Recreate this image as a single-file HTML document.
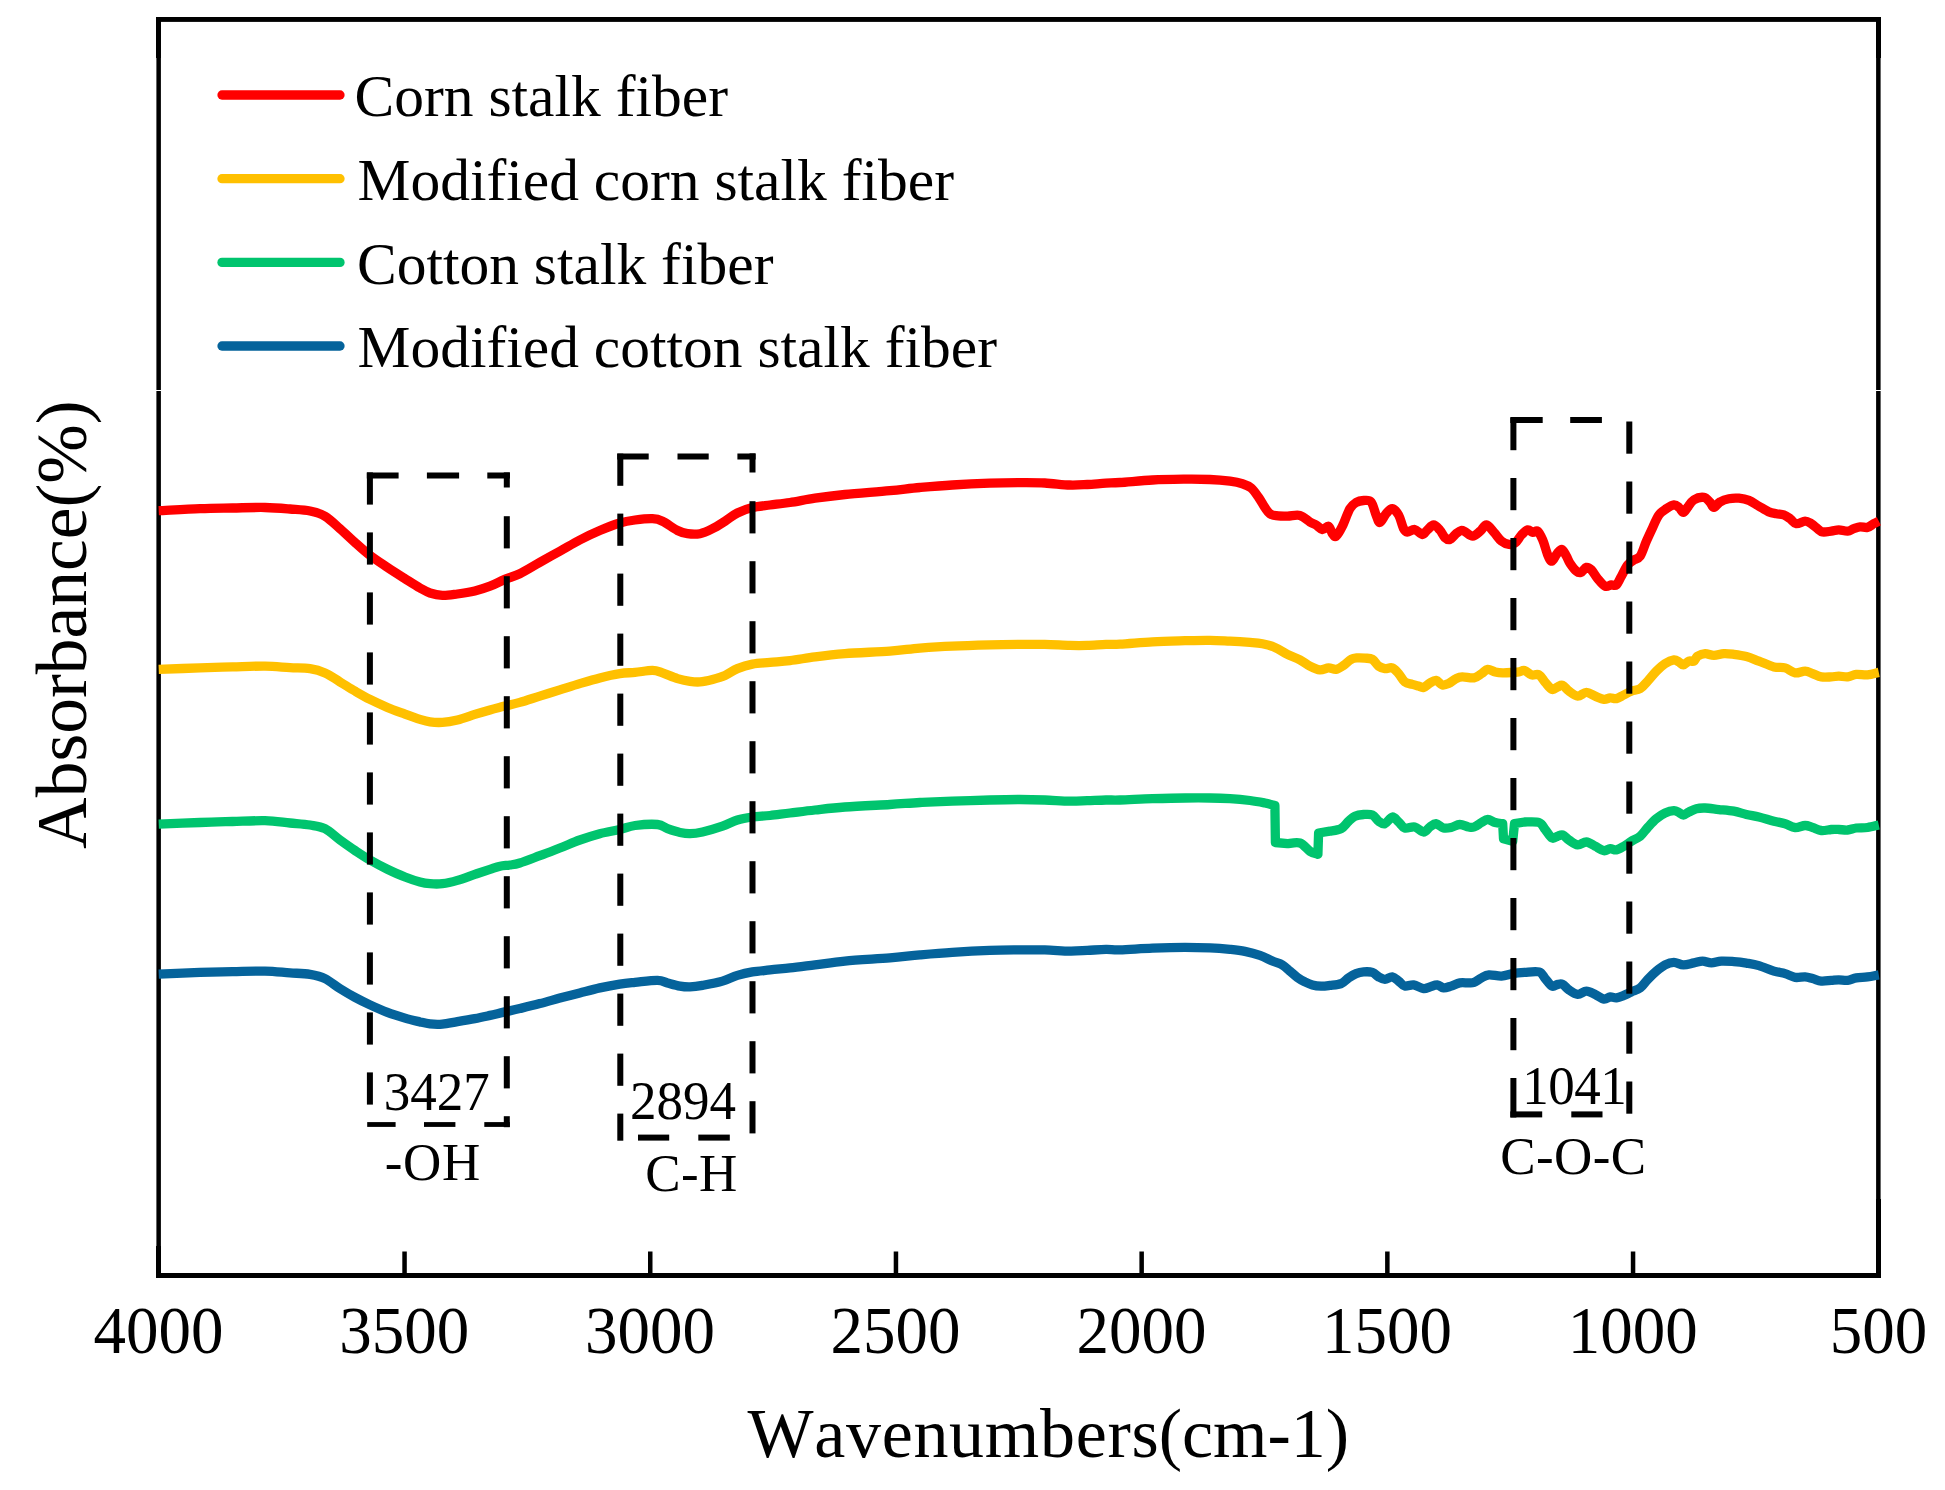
<!DOCTYPE html>
<html lang="en"><head><meta charset="utf-8"><title>FTIR spectra of stalk fibers</title>
<style>html,body{margin:0;padding:0;background:#fff}body{width:1945px;height:1490px;overflow:hidden}svg{display:block}</style>
</head><body>
<svg width="1945" height="1490" viewBox="0 0 1945 1490">
<rect width="1945" height="1490" fill="#fff"/>
<g fill="#000">
<rect x="156" y="17" width="1725" height="4.9"/>
<rect x="156" y="1273" width="1725" height="5"/>
<rect x="156.4" y="17" width="4.5" height="1261"/>
<rect x="156" y="17" width="4.9" height="41"/>
<rect x="156" y="1246" width="5" height="32"/>
<rect x="1876.1" y="17" width="4.5" height="1261"/>
<rect x="1876" y="17" width="5" height="41"/>
<rect x="1876" y="1199" width="5" height="79"/>
<rect x="402.3" y="1251.5" width="4.5" height="24.0"/>
<rect x="648.0" y="1251.5" width="4.5" height="24.0"/>
<rect x="893.7" y="1251.5" width="4.5" height="24.0"/>
<rect x="1139.4" y="1251.5" width="4.5" height="24.0"/>
<rect x="1385.1" y="1251.5" width="4.5" height="24.0"/>
<rect x="1630.8" y="1251.5" width="4.5" height="24.0"/>
</g>
<rect x="150" y="390" width="1740" height="1" fill="#fff"/>
<path d="M158.7 510.7C165.6 510.4 187.7 509.1 200.0 508.7C212.3 508.2 221.7 508.2 232.5 508.0C243.3 507.8 255.4 507.3 265.0 507.5C274.6 507.7 282.5 508.4 290.0 509.0C297.5 509.6 304.2 509.8 310.0 511.0C315.8 512.2 320.0 513.2 325.0 516.2C330.0 519.2 335.0 524.3 340.0 528.7C345.0 533.1 350.0 538.0 355.0 542.5C360.0 547.0 364.6 551.2 370.0 555.4C375.4 559.5 381.6 563.5 387.4 567.4C393.2 571.3 399.6 575.3 405.0 578.7C410.4 582.1 415.8 585.6 420.0 588.0C424.2 590.4 426.3 591.8 430.0 593.0C433.7 594.2 437.8 595.2 442.4 595.4C447.0 595.6 452.0 594.7 457.4 594.0C462.8 593.3 469.4 592.3 474.8 591.0C480.2 589.7 485.0 588.1 490.0 586.2C495.0 584.3 499.8 581.5 504.8 579.4C509.8 577.3 514.0 576.5 519.8 573.7C525.6 570.9 533.1 566.1 539.8 562.4C546.5 558.6 553.1 554.9 559.8 551.2C566.5 547.5 573.1 543.5 579.8 540.0C586.5 536.5 593.1 533.3 599.8 530.5C606.5 527.7 613.9 524.8 619.8 523.0C625.7 521.2 629.5 520.7 635.0 520.0C640.5 519.3 647.9 518.5 652.5 518.7C657.1 518.9 658.3 519.2 662.5 521.2C666.7 523.2 673.3 528.4 677.5 530.5C681.7 532.6 683.8 533.2 687.5 533.7C691.2 534.2 695.8 534.5 700.0 533.7C704.2 532.9 708.3 530.8 712.5 528.7C716.7 526.6 720.9 523.8 725.0 521.2C729.1 518.6 732.8 515.3 737.4 513.0C742.0 510.7 747.0 508.8 752.4 507.5C757.8 506.2 763.7 505.8 770.0 505.0C776.3 504.2 782.5 503.6 790.0 502.5C797.5 501.4 805.9 499.5 815.0 498.2C824.1 496.9 832.4 495.8 844.9 494.5C857.4 493.2 877.4 491.9 889.9 490.7C902.4 489.5 909.5 488.4 919.9 487.5C930.3 486.6 940.6 485.7 952.3 485.0C963.9 484.3 978.5 483.6 989.8 483.2C1001.0 482.8 1010.6 482.7 1019.8 482.7C1029.0 482.7 1036.5 482.6 1044.8 483.0C1053.1 483.4 1062.7 484.8 1069.8 485.0C1076.9 485.2 1081.3 484.8 1087.3 484.5C1093.3 484.2 1100.5 483.5 1106.0 483.2C1111.5 482.9 1112.2 483.0 1120.0 482.5C1127.8 482.0 1141.7 480.6 1152.5 480.0C1163.3 479.4 1175.4 479.3 1185.0 479.2C1194.6 479.1 1202.5 479.2 1210.0 479.5C1217.5 479.8 1224.6 480.5 1230.0 481.2C1235.4 481.9 1238.9 482.6 1242.4 483.7C1245.9 484.8 1248.5 485.7 1251.2 488.0C1253.9 490.3 1256.4 494.2 1258.7 497.5C1261.0 500.8 1263.0 504.8 1264.9 507.5C1266.8 510.2 1268.0 512.3 1269.9 513.7C1271.8 515.1 1273.3 515.3 1276.2 515.7C1279.1 516.1 1283.5 516.2 1287.4 516.2C1291.4 516.2 1296.2 514.5 1299.9 515.5C1303.7 516.5 1307.2 520.4 1309.9 522.0C1312.6 523.6 1314.0 523.8 1316.1 525.0C1318.2 526.2 1320.3 529.3 1322.4 529.5C1324.5 529.7 1326.9 525.5 1328.6 526.2C1330.3 526.9 1331.2 532.0 1332.4 533.7C1333.7 535.4 1334.4 537.5 1336.1 536.2C1337.8 535.0 1340.1 530.8 1342.4 526.2C1344.7 521.6 1347.6 512.6 1349.9 508.7C1352.2 504.8 1353.8 503.9 1356.1 502.5C1358.4 501.1 1361.1 500.6 1363.6 500.5C1366.1 500.4 1369.0 499.6 1371.1 502.0C1373.2 504.4 1374.6 511.6 1376.1 515.0C1377.6 518.4 1378.2 522.7 1379.9 522.5C1381.6 522.3 1384.0 516.0 1386.1 513.7C1388.2 511.4 1390.2 508.5 1392.3 508.7C1394.4 508.9 1396.7 511.7 1398.6 515.0C1400.5 518.3 1402.1 525.9 1403.6 528.7C1405.0 531.5 1405.4 531.9 1407.3 532.0C1409.2 532.1 1412.3 529.1 1414.8 529.5C1417.3 529.9 1420.2 534.4 1422.3 534.5C1424.4 534.6 1425.4 531.6 1427.3 530.0C1429.2 528.4 1431.5 525.0 1433.6 525.0C1435.7 525.0 1437.9 527.9 1439.8 530.0C1441.7 532.1 1443.1 535.9 1444.8 537.5C1446.5 539.1 1447.9 540.1 1449.8 539.5C1451.7 538.9 1454.2 535.2 1456.1 533.7C1458.0 532.2 1459.6 530.8 1461.1 530.5C1462.6 530.2 1463.3 530.9 1465.2 531.9C1467.1 532.9 1470.2 536.3 1472.7 536.2C1475.2 536.1 1477.9 533.1 1480.2 531.2C1482.5 529.3 1484.2 524.7 1486.5 524.9C1488.8 525.1 1491.5 529.7 1494.0 532.4C1496.5 535.1 1499.0 539.2 1501.5 541.2C1504.0 543.2 1506.7 544.1 1509.0 544.4C1511.3 544.7 1513.1 544.5 1515.2 542.9C1517.3 541.3 1519.4 537.1 1521.5 534.9C1523.6 532.7 1525.8 530.3 1527.7 529.9C1529.6 529.5 1531.0 532.2 1532.7 532.4C1534.4 532.6 1536.0 530.0 1537.7 531.2C1539.4 532.5 1541.0 536.0 1542.7 539.9C1544.4 543.8 1546.2 551.3 1547.7 554.9C1549.2 558.5 1550.5 561.4 1552.0 561.2C1553.5 561.0 1555.3 555.7 1557.0 553.7C1558.7 551.7 1560.4 549.0 1562.0 549.4C1563.6 549.8 1565.0 553.8 1566.4 556.2C1567.8 558.6 1568.5 561.2 1570.2 563.7C1571.9 566.2 1574.6 569.8 1576.4 571.2C1578.2 572.7 1579.2 573.0 1580.9 572.4C1582.6 571.8 1584.7 567.8 1586.4 567.4C1588.2 567.0 1589.5 568.0 1591.4 569.9C1593.3 571.8 1595.4 576.0 1597.7 578.7C1600.0 581.4 1602.9 585.2 1605.2 586.2C1607.5 587.2 1609.5 585.1 1611.4 584.9C1613.3 584.7 1614.7 586.3 1616.4 584.9C1618.1 583.5 1619.5 579.5 1621.4 576.2C1623.3 572.9 1625.6 567.6 1627.7 564.9C1629.8 562.2 1631.8 561.3 1633.9 559.9C1636.0 558.5 1638.1 559.3 1640.2 556.2C1642.3 553.1 1644.3 546.0 1646.4 541.2C1648.5 536.4 1650.6 531.8 1652.7 527.4C1654.8 523.0 1656.6 518.0 1658.9 514.9C1661.2 511.8 1663.9 510.4 1666.4 508.7C1668.9 507.0 1671.8 505.1 1673.9 504.9C1676.0 504.7 1677.3 506.1 1678.9 507.4C1680.5 508.6 1682.0 512.4 1683.4 512.4C1684.9 512.4 1685.8 509.5 1687.6 507.4C1689.3 505.3 1691.2 501.6 1693.9 499.9C1696.6 498.2 1701.2 497.0 1703.9 497.4C1706.6 497.8 1708.4 500.7 1710.1 502.4C1711.8 504.1 1712.2 507.5 1713.9 507.4C1715.6 507.3 1717.6 503.3 1720.1 501.9C1722.6 500.4 1725.8 499.3 1728.9 498.7C1732.0 498.1 1735.6 497.9 1738.9 498.2C1742.2 498.5 1745.6 499.1 1748.9 500.4C1752.2 501.7 1755.6 504.3 1758.9 506.2C1762.2 508.1 1766.0 510.6 1768.9 511.9C1771.8 513.1 1773.9 513.2 1776.4 513.7C1778.9 514.2 1781.5 514.1 1783.8 514.9C1786.1 515.7 1788.0 517.2 1790.1 518.7C1792.2 520.2 1793.8 523.3 1796.3 523.7C1798.8 524.1 1802.6 521.2 1805.1 521.2C1807.6 521.2 1809.2 522.5 1811.3 523.7C1813.4 525.0 1815.7 527.3 1817.6 528.7C1819.5 530.1 1820.3 531.5 1822.6 531.9C1824.9 532.3 1828.6 531.5 1831.3 531.2C1834.0 530.9 1836.1 529.9 1838.8 529.9C1841.5 529.9 1845.1 531.4 1847.6 531.2C1850.1 531.0 1851.7 529.4 1853.8 528.7C1855.9 528.0 1857.8 527.1 1860.1 526.9C1862.4 526.7 1865.2 527.9 1867.5 527.4C1869.8 526.9 1871.9 524.7 1873.8 523.7C1875.7 522.7 1878.0 521.6 1878.8 521.2" fill="none" stroke="#FF0000" stroke-width="9.3" stroke-linejoin="round" stroke-linecap="butt"/>
<path d="M158.7 669.4C165.6 669.1 187.7 668.3 200.0 667.9C212.3 667.5 221.7 667.2 232.5 666.9C243.3 666.6 255.4 666.0 265.0 666.1C274.6 666.2 282.5 667.2 290.0 667.6C297.5 668.0 304.2 667.7 310.0 668.6C315.8 669.5 320.0 670.7 325.0 672.9C330.0 675.1 335.0 678.9 340.0 681.9C345.0 684.9 350.0 688.2 355.0 691.1C360.0 694.0 364.6 696.7 370.0 699.4C375.4 702.1 381.6 704.9 387.4 707.4C393.2 709.9 399.6 712.1 405.0 714.1C410.4 716.1 415.8 718.1 420.0 719.4C424.2 720.7 426.3 721.4 430.0 721.9C433.7 722.4 437.8 722.7 442.4 722.4C447.0 722.1 452.0 721.2 457.4 719.9C462.8 718.6 469.4 716.1 474.8 714.4C480.2 712.7 485.0 711.3 490.0 709.9C495.0 708.5 499.8 707.4 504.8 706.1C509.8 704.9 514.0 704.1 519.8 702.4C525.6 700.7 533.1 698.2 539.8 696.1C546.5 694.0 553.1 692.0 559.8 689.9C566.5 687.8 573.1 685.6 579.8 683.6C586.5 681.6 593.1 679.6 599.8 677.9C606.5 676.2 613.9 674.5 619.8 673.6C625.7 672.7 629.5 672.9 635.0 672.4C640.5 671.9 647.9 670.3 652.5 670.4C657.1 670.5 658.3 671.5 662.5 672.9C666.7 674.3 672.9 677.2 677.5 678.6C682.1 680.0 686.2 680.9 690.0 681.4C693.8 681.9 696.2 682.2 700.0 681.9C703.8 681.6 708.3 680.5 712.5 679.4C716.7 678.3 720.9 677.2 725.0 675.4C729.1 673.6 732.8 670.5 737.4 668.6C742.0 666.7 747.0 665.1 752.4 664.1C757.8 663.1 763.7 663.0 770.0 662.4C776.3 661.8 782.5 661.5 790.0 660.6C797.5 659.7 805.9 658.1 815.0 656.9C824.1 655.7 832.4 654.6 844.9 653.6C857.4 652.6 877.4 652.0 889.9 651.1C902.4 650.2 909.5 648.9 919.9 648.1C930.3 647.3 940.6 646.6 952.3 646.1C963.9 645.6 978.5 645.2 989.8 644.9C1001.0 644.6 1010.6 644.5 1019.8 644.4C1029.0 644.3 1036.5 644.2 1044.8 644.4C1053.1 644.6 1062.7 645.2 1069.8 645.4C1076.9 645.6 1081.3 645.6 1087.3 645.4C1093.3 645.2 1100.5 644.6 1106.0 644.4C1111.5 644.2 1112.2 644.6 1120.0 644.2C1127.8 643.8 1141.7 642.5 1152.5 641.9C1163.3 641.3 1175.4 641.0 1185.0 640.7C1194.6 640.5 1202.5 640.3 1210.0 640.4C1217.5 640.5 1223.3 640.9 1230.0 641.2C1236.7 641.5 1244.6 642.0 1250.0 642.4C1255.4 642.8 1258.2 642.9 1262.4 643.7C1266.6 644.5 1270.7 645.6 1274.9 647.4C1279.1 649.2 1283.2 652.3 1287.4 654.4C1291.6 656.5 1296.2 657.9 1299.9 659.9C1303.7 661.9 1306.6 664.4 1309.9 666.1C1313.2 667.8 1316.8 669.6 1319.9 669.9C1323.0 670.2 1325.9 668.0 1328.6 667.9C1331.3 667.8 1333.6 669.8 1336.1 669.4C1338.6 669.0 1341.1 667.1 1343.6 665.4C1346.1 663.7 1348.8 660.6 1351.1 659.4C1353.4 658.1 1355.1 658.1 1357.4 657.9C1359.7 657.7 1362.4 657.9 1364.9 658.1C1367.4 658.4 1370.1 658.1 1372.4 659.4C1374.7 660.7 1376.5 664.6 1378.6 666.1C1380.7 667.6 1382.6 668.3 1384.9 668.6C1387.2 668.9 1390.0 667.1 1392.3 667.9C1394.6 668.7 1396.5 671.3 1398.6 673.6C1400.7 675.9 1402.5 680.1 1404.8 681.9C1407.1 683.7 1410.0 683.7 1412.3 684.4C1414.6 685.1 1416.7 685.6 1418.6 686.1C1420.5 686.6 1421.7 687.9 1423.6 687.4C1425.5 686.9 1427.7 684.3 1429.8 683.1C1431.9 681.9 1434.0 680.1 1436.1 680.4C1438.2 680.7 1440.2 684.4 1442.3 684.9C1444.4 685.4 1446.3 684.6 1448.6 683.6C1450.9 682.6 1453.8 679.7 1456.1 678.6C1458.4 677.5 1459.3 677.0 1462.3 676.9C1465.3 676.8 1470.8 678.4 1474.0 677.9C1477.2 677.4 1479.2 675.0 1481.5 673.6C1483.8 672.2 1485.4 669.7 1487.7 669.4C1490.0 669.1 1492.7 671.3 1495.2 671.9C1497.7 672.5 1499.8 672.8 1502.7 672.9C1505.6 673.0 1510.0 672.6 1512.7 672.4C1515.4 672.2 1517.0 672.2 1519.0 671.9C1521.0 671.6 1522.4 669.9 1524.5 670.4C1526.6 670.9 1529.1 674.1 1531.5 674.9C1533.9 675.6 1536.7 673.6 1539.0 674.9C1541.3 676.1 1543.0 680.0 1545.2 682.4C1547.4 684.8 1549.9 688.6 1552.0 689.4C1554.1 690.1 1555.9 687.6 1557.7 686.9C1559.5 686.2 1560.8 684.7 1562.7 685.4C1564.6 686.1 1566.4 689.3 1568.9 691.1C1571.4 692.9 1574.8 695.9 1577.7 696.1C1580.6 696.3 1583.5 692.4 1586.4 692.4C1589.3 692.4 1592.3 694.9 1595.2 696.1C1598.1 697.3 1601.4 699.1 1603.9 699.4C1606.4 699.7 1608.1 698.0 1610.2 697.9C1612.3 697.8 1614.1 699.1 1616.4 698.6C1618.7 698.1 1621.4 696.1 1623.9 694.9C1626.4 693.6 1628.7 692.1 1631.4 691.1C1634.1 690.1 1637.5 690.3 1640.2 688.6C1642.9 686.9 1645.0 684.0 1647.7 681.1C1650.4 678.2 1653.5 674.0 1656.4 671.1C1659.3 668.2 1662.2 665.5 1665.1 663.6C1668.0 661.7 1671.6 660.2 1673.9 659.9C1676.2 659.6 1677.3 661.1 1678.9 661.9C1680.5 662.7 1681.7 665.0 1683.4 664.9C1685.1 664.8 1687.2 661.7 1688.9 661.1C1690.7 660.5 1692.5 661.9 1693.9 661.1C1695.4 660.3 1695.7 657.4 1697.6 656.1C1699.5 654.9 1702.4 653.7 1705.1 653.6C1707.8 653.5 1710.8 655.4 1713.9 655.4C1717.0 655.4 1720.6 653.8 1723.9 653.6C1727.2 653.4 1730.2 653.9 1733.9 654.4C1737.7 654.9 1742.2 655.5 1746.4 656.6C1750.6 657.7 1754.3 659.4 1758.9 661.1C1763.5 662.8 1769.5 665.8 1773.9 666.9C1778.3 668.0 1781.6 666.9 1785.1 667.9C1788.6 668.9 1791.8 672.4 1795.1 672.9C1798.4 673.4 1802.2 671.0 1805.1 671.1C1808.0 671.2 1809.9 672.6 1812.6 673.6C1815.3 674.6 1818.2 676.4 1821.3 676.9C1824.4 677.4 1828.4 677.0 1831.3 676.9C1834.2 676.8 1836.1 676.1 1838.8 676.1C1841.5 676.1 1844.7 677.2 1847.6 676.9C1850.5 676.6 1853.0 674.7 1856.3 674.4C1859.6 674.1 1863.8 675.2 1867.5 674.9C1871.2 674.6 1876.9 672.8 1878.8 672.4" fill="none" stroke="#FFC000" stroke-width="9.3" stroke-linejoin="round" stroke-linecap="butt"/>
<path d="M158.7 824.2C165.6 823.9 187.7 823.0 200.0 822.5C212.3 822.0 221.7 821.8 232.5 821.5C243.3 821.2 255.4 820.5 265.0 820.7C274.6 821.0 282.5 822.3 290.0 823.0C297.5 823.7 304.2 824.0 310.0 825.0C315.8 826.0 320.0 826.2 325.0 828.7C330.0 831.2 335.0 836.4 340.0 840.0C345.0 843.6 350.0 847.2 355.0 850.5C360.0 853.8 364.6 856.9 370.0 860.0C375.4 863.1 381.6 866.4 387.4 869.2C393.2 872.0 399.6 874.9 405.0 877.0C410.4 879.1 415.8 880.9 420.0 882.0C424.2 883.1 426.3 883.4 430.0 883.7C433.7 884.0 437.8 884.2 442.4 883.7C447.0 883.2 452.0 882.0 457.4 880.4C462.8 878.8 469.4 876.2 474.8 874.4C480.2 872.6 485.8 870.8 490.0 869.4C494.2 868.0 496.7 866.9 500.0 866.2C503.3 865.5 506.7 865.5 510.0 865.0C513.3 864.5 514.8 864.5 519.8 863.0C524.8 861.5 533.1 858.2 539.8 855.7C546.5 853.2 553.1 850.6 559.8 848.0C566.5 845.4 573.1 842.4 579.8 840.0C586.5 837.6 593.1 835.5 599.8 833.7C606.5 832.0 613.9 830.9 619.8 829.5C625.7 828.1 628.7 826.3 635.0 825.5C641.3 824.7 652.1 824.0 657.5 824.5C662.9 825.0 663.8 827.4 667.5 828.7C671.2 830.0 676.2 831.7 680.0 832.5C683.8 833.3 686.2 833.8 690.0 833.7C693.8 833.6 697.1 833.2 702.5 832.0C707.9 830.8 716.7 828.2 722.5 826.2C728.3 824.2 732.4 821.5 737.4 820.0C742.4 818.5 747.0 817.8 752.4 817.0C757.8 816.2 763.7 816.2 770.0 815.5C776.3 814.8 782.5 813.9 790.0 813.0C797.5 812.1 805.9 811.0 815.0 810.0C824.1 809.0 832.4 807.9 844.9 807.0C857.4 806.1 877.4 805.2 889.9 804.5C902.4 803.8 909.5 803.0 919.9 802.5C930.3 802.0 940.6 801.6 952.3 801.2C963.9 800.8 978.5 800.3 989.8 800.0C1001.0 799.7 1010.6 799.5 1019.8 799.5C1029.0 799.5 1036.5 799.7 1044.8 800.0C1053.1 800.3 1062.7 801.1 1069.8 801.2C1076.9 801.3 1081.3 800.9 1087.3 800.7C1093.3 800.5 1100.5 800.1 1106.0 800.0C1111.5 799.9 1112.2 800.2 1120.0 800.0C1127.8 799.8 1141.7 799.0 1152.5 798.7C1163.3 798.4 1175.4 798.1 1185.0 798.0C1194.6 797.9 1202.5 797.9 1210.0 798.0C1217.5 798.1 1223.3 798.3 1230.0 798.7C1236.7 799.1 1244.2 799.8 1250.0 800.5C1255.8 801.2 1260.8 802.2 1264.9 803.0C1269.1 803.8 1273.2 805.1 1274.9 805.5L1275.4 842.5L1287.4 843.7C1289.5 843.6 1296.2 841.8 1299.9 843.0C1303.7 844.2 1306.9 849.3 1309.9 851.2C1312.9 853.1 1316.6 853.8 1317.9 854.3L1318.6 833.0L1329.9 831.2C1331.8 830.8 1338.0 830.4 1341.1 828.7C1344.2 827.0 1346.3 823.3 1348.6 821.2C1350.9 819.1 1352.4 817.3 1354.9 816.2C1357.4 815.1 1360.7 814.7 1363.6 814.5C1366.5 814.3 1369.9 813.9 1372.4 815.0C1374.9 816.1 1376.5 819.8 1378.6 821.2C1380.7 822.7 1382.6 824.4 1384.9 823.7C1387.2 823.0 1390.0 817.3 1392.3 817.0C1394.6 816.7 1396.5 820.2 1398.6 822.0C1400.7 823.8 1402.1 827.2 1404.8 828.0C1407.5 828.8 1411.7 826.3 1414.8 827.0C1417.9 827.7 1421.1 832.0 1423.6 832.0C1426.1 832.0 1427.7 828.4 1429.8 827.0C1431.9 825.6 1433.8 823.5 1436.1 823.7C1438.4 823.9 1441.1 827.4 1443.6 828.0C1446.1 828.6 1448.4 828.1 1451.1 827.5C1453.8 826.9 1456.9 824.6 1459.8 824.5C1462.7 824.4 1466.2 826.6 1468.6 827.0C1471.0 827.4 1471.8 827.8 1474.0 827.0C1476.2 826.2 1479.2 823.8 1481.5 822.5C1483.8 821.2 1485.4 819.5 1487.7 819.5C1490.0 819.5 1492.7 821.8 1495.2 822.5C1497.7 823.2 1501.5 823.5 1502.7 823.7L1503.5 838.7L1512.7 841.2L1514.5 823.7L1524.5 822.0C1526.9 822.1 1535.5 821.2 1539.0 822.5C1542.5 823.8 1543.0 826.9 1545.2 829.5C1547.4 832.1 1549.9 836.9 1552.0 838.0C1554.1 839.1 1555.9 836.7 1557.7 836.2C1559.5 835.7 1560.8 834.4 1562.7 835.0C1564.6 835.6 1566.4 838.4 1568.9 840.0C1571.4 841.6 1574.8 844.6 1577.7 844.9C1580.6 845.2 1583.5 841.8 1586.4 842.0C1589.3 842.2 1592.3 844.8 1595.2 846.2C1598.1 847.7 1601.4 850.3 1603.9 850.7C1606.4 851.1 1608.1 848.8 1610.2 848.7C1612.3 848.6 1614.1 850.3 1616.4 849.9C1618.7 849.5 1621.4 847.7 1623.9 846.2C1626.4 844.8 1628.7 842.9 1631.4 841.2C1634.1 839.5 1637.5 838.5 1640.2 836.2C1642.9 833.9 1645.0 830.4 1647.7 827.5C1650.4 824.6 1653.5 821.1 1656.4 818.7C1659.3 816.3 1662.2 814.3 1665.1 813.0C1668.0 811.7 1671.6 810.8 1673.9 810.7C1676.2 810.6 1677.3 811.8 1678.9 812.5C1680.5 813.2 1681.7 815.1 1683.4 815.0C1685.1 814.9 1686.7 813.0 1688.9 812.0C1691.1 811.0 1693.7 809.4 1696.4 808.7C1699.1 808.0 1701.3 807.9 1705.1 808.0C1708.8 808.1 1714.1 809.0 1718.9 809.5C1723.7 810.0 1729.3 810.4 1733.9 811.2C1738.5 812.0 1742.2 813.5 1746.4 814.5C1750.6 815.5 1754.3 815.9 1758.9 817.0C1763.5 818.1 1769.5 820.1 1773.9 821.2C1778.3 822.3 1781.6 822.7 1785.1 823.7C1788.6 824.8 1791.8 827.2 1795.1 827.5C1798.4 827.8 1802.2 825.5 1805.1 825.5C1808.0 825.5 1809.9 826.7 1812.6 827.5C1815.3 828.3 1818.2 830.2 1821.3 830.5C1824.4 830.8 1828.4 829.7 1831.3 829.5C1834.2 829.3 1836.1 829.4 1838.8 829.5C1841.5 829.6 1844.7 830.2 1847.6 830.0C1850.5 829.8 1853.0 828.4 1856.3 828.0C1859.6 827.6 1863.8 828.0 1867.5 827.5C1871.2 827.0 1876.9 825.4 1878.8 825.0" fill="none" stroke="#00C46E" stroke-width="9.3" stroke-linejoin="round" stroke-linecap="butt"/>
<path d="M158.7 974.1C165.6 973.8 187.7 972.8 200.0 972.4C212.3 972.0 221.7 971.8 232.5 971.6C243.3 971.4 255.4 970.9 265.0 971.1C274.6 971.3 282.5 972.4 290.0 972.9C297.5 973.4 304.2 973.4 310.0 974.4C315.8 975.4 320.0 976.2 325.0 978.6C330.0 981.0 335.0 985.5 340.0 988.6C345.0 991.7 350.0 994.7 355.0 997.4C360.0 1000.1 364.6 1002.4 370.0 1004.9C375.4 1007.4 381.6 1010.2 387.4 1012.4C393.2 1014.6 399.6 1016.5 405.0 1018.1C410.4 1019.7 415.8 1020.9 420.0 1021.9C424.2 1022.9 426.3 1023.5 430.0 1023.9C433.7 1024.3 437.8 1024.5 442.4 1024.1C447.0 1023.7 452.0 1022.5 457.4 1021.6C462.8 1020.7 469.4 1019.6 474.8 1018.6C480.2 1017.6 485.0 1016.5 490.0 1015.4C495.0 1014.3 499.8 1013.0 504.8 1011.9C509.8 1010.8 514.0 1010.0 519.8 1008.6C525.6 1007.2 533.1 1005.4 539.8 1003.6C546.5 1001.9 553.1 999.9 559.8 998.1C566.5 996.3 573.1 994.6 579.8 992.9C586.5 991.2 593.1 989.4 599.8 987.9C606.5 986.4 613.9 985.0 619.8 984.1C625.7 983.2 628.7 983.0 635.0 982.4C641.3 981.8 652.1 980.3 657.5 980.4C662.9 980.5 663.8 981.9 667.5 982.9C671.2 983.9 676.2 985.4 680.0 986.1C683.8 986.8 686.2 987.0 690.0 986.9C693.8 986.8 697.1 986.4 702.5 985.4C707.9 984.4 716.7 982.8 722.5 981.1C728.3 979.4 732.4 976.9 737.4 975.4C742.4 973.9 747.0 972.8 752.4 971.9C757.8 971.0 763.7 970.6 770.0 969.9C776.3 969.2 782.5 968.7 790.0 967.9C797.5 967.1 805.9 966.0 815.0 964.9C824.1 963.8 832.4 962.3 844.9 961.1C857.4 959.9 877.4 958.9 889.9 957.9C902.4 956.9 909.5 955.8 919.9 954.9C930.3 954.0 940.6 953.1 952.3 952.4C963.9 951.6 978.5 950.8 989.8 950.4C1001.0 950.0 1010.6 950.0 1019.8 949.9C1029.0 949.8 1036.5 949.7 1044.8 949.9C1053.1 950.1 1062.7 951.0 1069.8 951.1C1076.9 951.2 1081.3 950.7 1087.3 950.4C1093.3 950.1 1100.5 949.5 1106.0 949.4C1111.5 949.3 1112.2 950.1 1120.0 949.9C1127.8 949.7 1141.7 948.5 1152.5 948.1C1163.3 947.7 1175.4 947.4 1185.0 947.4C1194.6 947.4 1202.5 947.6 1210.0 947.9C1217.5 948.2 1224.2 948.8 1230.0 949.4C1235.8 950.0 1239.9 950.4 1244.9 951.4C1249.9 952.4 1255.3 953.8 1259.9 955.4C1264.5 957.0 1268.7 959.5 1272.4 961.1C1276.2 962.7 1279.5 963.2 1282.4 964.9C1285.3 966.6 1287.4 969.0 1289.9 971.1C1292.4 973.2 1294.9 975.6 1297.4 977.4C1299.9 979.2 1302.4 980.6 1304.9 981.9C1307.4 983.1 1309.7 984.2 1312.4 984.9C1315.1 985.6 1318.2 986.0 1321.1 986.1C1324.0 986.2 1326.6 985.8 1329.9 985.4C1333.2 985.0 1338.0 984.9 1341.1 983.6C1344.2 982.4 1346.1 979.6 1348.6 977.9C1351.1 976.2 1353.6 974.6 1356.1 973.6C1358.6 972.6 1360.9 972.1 1363.6 971.9C1366.3 971.7 1369.9 971.6 1372.4 972.4C1374.9 973.2 1376.5 975.7 1378.6 976.9C1380.7 978.1 1382.6 979.4 1384.9 979.4C1387.2 979.4 1390.0 976.6 1392.3 976.9C1394.6 977.2 1396.5 979.6 1398.6 981.1C1400.7 982.6 1402.3 985.5 1404.8 986.1C1407.3 986.7 1410.5 984.5 1413.6 984.9C1416.7 985.3 1420.9 988.3 1423.6 988.6C1426.3 988.9 1427.5 987.5 1429.8 986.9C1432.1 986.3 1435.0 984.7 1437.3 984.9C1439.6 985.1 1441.3 987.7 1443.6 987.9C1445.9 988.1 1448.4 986.9 1451.1 986.1C1453.8 985.3 1456.9 983.4 1459.8 982.9C1462.7 982.4 1466.2 983.0 1468.6 982.9C1471.0 982.8 1471.8 983.2 1474.0 982.4C1476.2 981.6 1479.0 979.1 1481.5 977.9C1484.0 976.6 1485.7 975.2 1489.0 974.9C1492.3 974.6 1497.5 976.3 1501.5 976.1C1505.5 975.9 1508.9 974.2 1512.7 973.6C1516.5 973.0 1520.1 972.7 1524.5 972.4C1528.9 972.1 1535.5 970.9 1539.0 971.9C1542.5 972.9 1543.0 976.2 1545.2 978.6C1547.4 981.0 1549.9 985.1 1552.0 986.1C1554.1 987.1 1555.9 984.7 1557.7 984.4C1559.5 984.1 1560.8 983.5 1562.7 984.4C1564.6 985.3 1566.4 988.2 1568.9 989.9C1571.4 991.6 1574.8 994.2 1577.7 994.4C1580.6 994.6 1583.5 991.1 1586.4 991.1C1589.3 991.1 1592.3 993.1 1595.2 994.4C1598.1 995.7 1601.4 998.7 1603.9 999.1C1606.4 999.5 1608.1 997.1 1610.2 996.9C1612.3 996.7 1614.1 998.1 1616.4 997.9C1618.7 997.6 1621.4 996.4 1623.9 995.4C1626.4 994.4 1628.7 993.1 1631.4 991.9C1634.1 990.6 1637.5 990.0 1640.2 987.9C1642.9 985.8 1645.0 982.2 1647.7 979.4C1650.4 976.6 1653.5 973.5 1656.4 971.1C1659.3 968.7 1662.2 966.4 1665.1 964.9C1668.0 963.4 1670.9 962.4 1673.9 962.4C1677.0 962.4 1680.1 964.8 1683.4 964.9C1686.7 965.0 1690.7 963.5 1693.9 962.9C1697.1 962.3 1699.7 961.1 1702.6 961.1C1705.5 961.1 1708.3 962.9 1711.4 962.9C1714.5 962.9 1717.7 961.3 1721.4 961.1C1725.2 960.9 1729.7 961.3 1733.9 961.6C1738.1 961.9 1742.2 962.4 1746.4 963.1C1750.6 963.8 1754.3 964.3 1758.9 965.6C1763.5 966.9 1769.5 969.8 1773.9 971.1C1778.3 972.4 1781.6 972.6 1785.1 973.6C1788.6 974.6 1791.8 976.9 1795.1 977.4C1798.4 977.9 1802.2 976.7 1805.1 976.9C1808.0 977.1 1809.9 977.9 1812.6 978.6C1815.3 979.3 1818.2 980.8 1821.3 981.1C1824.4 981.4 1828.4 980.6 1831.3 980.4C1834.2 980.2 1836.1 979.9 1838.8 979.9C1841.5 979.9 1844.7 980.7 1847.6 980.4C1850.5 980.1 1853.0 978.5 1856.3 977.9C1859.6 977.3 1863.8 977.4 1867.5 976.9C1871.2 976.4 1876.9 975.2 1878.8 974.9" fill="none" stroke="#05639B" stroke-width="9.3" stroke-linejoin="round" stroke-linecap="butt"/>
<g fill="#000">
<rect x="366.9" y="472.4" width="6.0" height="32.2"/>
<rect x="366.9" y="532.4" width="6.0" height="32.2"/>
<rect x="366.9" y="592.4" width="6.0" height="32.2"/>
<rect x="366.9" y="652.4" width="6.0" height="32.2"/>
<rect x="366.9" y="712.4" width="6.0" height="32.2"/>
<rect x="366.9" y="772.4" width="6.0" height="32.2"/>
<rect x="366.9" y="832.4" width="6.0" height="32.2"/>
<rect x="366.9" y="892.4" width="6.0" height="32.2"/>
<rect x="366.9" y="952.4" width="6.0" height="32.2"/>
<rect x="366.9" y="1012.4" width="6.0" height="32.2"/>
<rect x="366.9" y="1072.4" width="6.0" height="32.2"/>
<rect x="503.8" y="472.4" width="6.0" height="15.1"/>
<rect x="503.8" y="516.2" width="6.0" height="32.2"/>
<rect x="503.8" y="576.2" width="6.0" height="32.2"/>
<rect x="503.8" y="636.2" width="6.0" height="32.2"/>
<rect x="503.8" y="696.2" width="6.0" height="32.2"/>
<rect x="503.8" y="756.2" width="6.0" height="32.2"/>
<rect x="503.8" y="816.2" width="6.0" height="32.2"/>
<rect x="503.8" y="876.2" width="6.0" height="32.2"/>
<rect x="503.8" y="936.2" width="6.0" height="32.2"/>
<rect x="503.8" y="996.2" width="6.0" height="32.2"/>
<rect x="503.8" y="1056.2" width="6.0" height="32.2"/>
<rect x="503.8" y="1116.2" width="6.0" height="11.0"/>
<rect x="366.8" y="472.5" width="31.8" height="6.0"/>
<rect x="426.9" y="472.5" width="32.2" height="6.0"/>
<rect x="487.3" y="472.5" width="22.6" height="6.0"/>
<rect x="367.2" y="1122.1" width="28.4" height="4.8"/>
<rect x="424.0" y="1122.1" width="31.4" height="4.8"/>
<rect x="484.3" y="1122.1" width="25.5" height="4.8"/>
<rect x="617.3" y="453.6" width="6.0" height="32.2"/>
<rect x="617.3" y="513.6" width="6.0" height="32.2"/>
<rect x="617.3" y="573.6" width="6.0" height="32.2"/>
<rect x="617.3" y="633.6" width="6.0" height="32.2"/>
<rect x="617.3" y="693.6" width="6.0" height="32.2"/>
<rect x="617.3" y="753.6" width="6.0" height="32.2"/>
<rect x="617.3" y="813.6" width="6.0" height="32.2"/>
<rect x="617.3" y="873.6" width="6.0" height="32.2"/>
<rect x="617.3" y="933.6" width="6.0" height="32.2"/>
<rect x="617.3" y="993.6" width="6.0" height="32.2"/>
<rect x="617.3" y="1053.6" width="6.0" height="32.2"/>
<rect x="617.3" y="1113.6" width="6.0" height="27.1"/>
<rect x="749.5" y="453.4" width="6.0" height="19.1"/>
<rect x="749.5" y="501.2" width="6.0" height="32.2"/>
<rect x="749.5" y="561.2" width="6.0" height="32.2"/>
<rect x="749.5" y="621.2" width="6.0" height="32.2"/>
<rect x="749.5" y="681.2" width="6.0" height="32.2"/>
<rect x="749.5" y="741.2" width="6.0" height="32.2"/>
<rect x="749.5" y="801.2" width="6.0" height="32.2"/>
<rect x="749.5" y="861.2" width="6.0" height="32.2"/>
<rect x="749.5" y="921.2" width="6.0" height="32.2"/>
<rect x="749.5" y="981.2" width="6.0" height="32.2"/>
<rect x="749.5" y="1041.2" width="6.0" height="32.2"/>
<rect x="749.5" y="1101.2" width="6.0" height="32.2"/>
<rect x="617.2" y="453.5" width="31.5" height="6.0"/>
<rect x="677.5" y="453.5" width="31.2" height="6.0"/>
<rect x="737.4" y="453.5" width="18.2" height="6.0"/>
<rect x="638.0" y="1134.6" width="31.2" height="6.0"/>
<rect x="698.3" y="1134.6" width="31.5" height="6.0"/>
<rect x="1510.4" y="418.0" width="6.0" height="32.2"/>
<rect x="1510.4" y="478.0" width="6.0" height="32.2"/>
<rect x="1510.4" y="538.0" width="6.0" height="32.2"/>
<rect x="1510.4" y="598.0" width="6.0" height="32.2"/>
<rect x="1510.4" y="658.0" width="6.0" height="32.2"/>
<rect x="1510.4" y="718.0" width="6.0" height="32.2"/>
<rect x="1510.4" y="778.0" width="6.0" height="32.2"/>
<rect x="1510.4" y="838.0" width="6.0" height="32.2"/>
<rect x="1510.4" y="898.0" width="6.0" height="32.2"/>
<rect x="1510.4" y="958.0" width="6.0" height="32.2"/>
<rect x="1510.4" y="1018.0" width="6.0" height="32.2"/>
<rect x="1510.4" y="1078.0" width="6.0" height="39.5"/>
<rect x="1626.3" y="421.5" width="6.0" height="32.2"/>
<rect x="1626.3" y="481.5" width="6.0" height="32.2"/>
<rect x="1626.3" y="541.5" width="6.0" height="32.2"/>
<rect x="1626.3" y="601.5" width="6.0" height="32.2"/>
<rect x="1626.3" y="661.5" width="6.0" height="32.2"/>
<rect x="1626.3" y="721.5" width="6.0" height="32.2"/>
<rect x="1626.3" y="781.5" width="6.0" height="32.2"/>
<rect x="1626.3" y="841.5" width="6.0" height="32.2"/>
<rect x="1626.3" y="901.5" width="6.0" height="32.2"/>
<rect x="1626.3" y="961.5" width="6.0" height="32.2"/>
<rect x="1626.3" y="1021.5" width="6.0" height="32.2"/>
<rect x="1626.3" y="1081.5" width="6.0" height="32.2"/>
<rect x="1510.3" y="417.0" width="32.4" height="6.0"/>
<rect x="1570.2" y="417.0" width="31.7" height="6.0"/>
<rect x="1510.3" y="1111.4" width="31.9" height="6.0"/>
<rect x="1571.3" y="1111.4" width="31.2" height="6.0"/>
</g>
<g font-family="'Liberation Serif', 'Times New Roman', serif" fill="#000" style="font-kerning:none;font-variant-ligatures:none">
<text transform="translate(158.5 1353) scale(1 1.025)" font-size="65" text-anchor="middle">4000</text>
<text transform="translate(404.2 1353) scale(1 1.025)" font-size="65" text-anchor="middle">3500</text>
<text transform="translate(649.9 1353) scale(1 1.025)" font-size="65" text-anchor="middle">3000</text>
<text transform="translate(895.6 1353) scale(1 1.025)" font-size="65" text-anchor="middle">2500</text>
<text transform="translate(1141.4 1353) scale(1 1.025)" font-size="65" text-anchor="middle">2000</text>
<text transform="translate(1387.1 1353) scale(1 1.025)" font-size="65" text-anchor="middle">1500</text>
<text transform="translate(1632.8 1353) scale(1 1.025)" font-size="65" text-anchor="middle">1000</text>
<text transform="translate(1878.5 1353) scale(1 1.025)" font-size="65" text-anchor="middle">500</text>
<text x="747.4" y="1457" font-size="70"><tspan letter-spacing="0.7">Wavenumber</tspan>s(cm-1)</text>
<text transform="translate(86.4 849) rotate(-90) scale(1.0 1.0)" font-size="71.5">Absorbance(%)</text>
<text x="354.5" y="116" font-size="59.5">Corn stalk fiber</text>
<text x="357.5" y="200" font-size="59.5">Modified corn stalk fiber</text>
<text x="357" y="283.7" font-size="59.5">Cotton stalk fiber</text>
<text x="357.5" y="367.4" font-size="59.5">Modified cotton stalk fiber</text>
<text transform="translate(383.8 1109.5) scale(1 1.03)" font-size="53" letter-spacing="0">3427</text>
<text transform="translate(384.8 1180.2) scale(1 1)" font-size="53" letter-spacing="0.6">-OH</text>
<text transform="translate(630 1119.3) scale(1 1.03)" font-size="53" letter-spacing="0">2894</text>
<text transform="translate(645.3 1190.8) scale(1 1)" font-size="53" letter-spacing="0.4">C-H</text>
<text transform="translate(1522.3 1104.3) scale(1 1.03)" font-size="53" letter-spacing="-0.5">1041</text>
<text transform="translate(1500.3 1174.3) scale(1 1)" font-size="53" letter-spacing="0.4">C-O-C</text>
</g>
<line x1="222" x2="340" y1="95" y2="95" stroke="#FF0000" stroke-width="9.3" stroke-linecap="round"/>
<line x1="222" x2="340" y1="178.7" y2="178.7" stroke="#FFC000" stroke-width="9.3" stroke-linecap="round"/>
<line x1="222" x2="340" y1="262.4" y2="262.4" stroke="#00C46E" stroke-width="9.3" stroke-linecap="round"/>
<line x1="222" x2="340" y1="346" y2="346" stroke="#05639B" stroke-width="9.3" stroke-linecap="round"/>
</svg>
</body></html>
